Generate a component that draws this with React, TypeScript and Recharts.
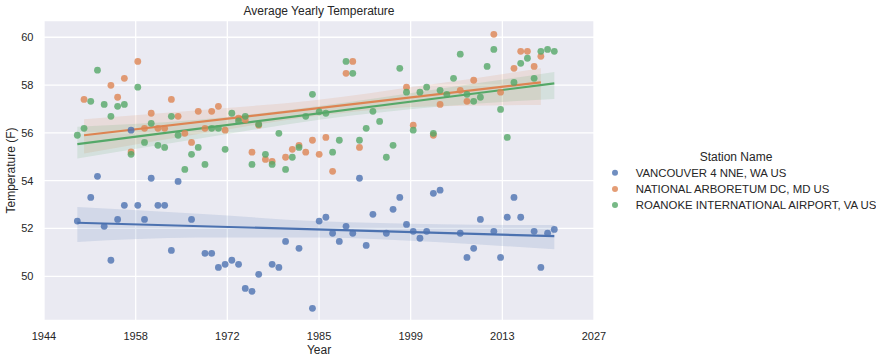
import React from "react";
import {
  ComposedChart,
  Scatter,
  Line,
  Area,
  XAxis,
  YAxis,
  CartesianGrid,
} from "recharts";

// seaborn "deep" palette
const colors = ["#4C72B0", "#DD8452", "#55A868"];
const textColor = "#262626";
const font = "'Liberation Sans', Arial, sans-serif";

const stations = [
  "VANCOUVER 4 NNE, WA US",
  "NATIONAL ARBORETUM DC, MD US",
  "ROANOKE INTERNATIONAL AIRPORT, VA US",
];

// x ticks (labels as drawn by the original axis)
const xTicks = [1944.04, 1957.69, 1971.33, 1984.98, 1998.62, 2012.27, 2025.91];
const xTickLabels = ["1944", "1958", "1972", "1985", "1999", "2013", "2027"];
const yTicks = [50, 52, 54, 56, 58, 60];

// Vancouver
const vanYears = [
  1949, 1951, 1952, 1953, 1954, 1955, 1956, 1957, 1958, 1959, 1960, 1961, 1962, 1963, 1964, 1966,
  1968, 1969, 1970, 1971, 1972, 1973, 1974, 1975, 1976, 1978, 1979, 1980, 1982, 1984, 1985, 1986,
  1987, 1988, 1989, 1990, 1991, 1992, 1993, 1995, 1996, 1997, 1998, 1999, 2000, 2001, 2002, 2003,
  2006, 2007, 2008, 2009, 2011, 2012, 2013, 2014, 2015, 2017, 2018, 2019, 2020,
];
const vanTemps = [
  52.31, 53.3, 54.18, 52.09, 50.67, 52.38, 52.97, 56.11, 52.97, 52.38, 54.1, 52.97, 52.97, 51.08, 53.97, 52.38,
  50.96, 50.96, 50.37, 50.5, 50.67, 50.5, 49.49, 49.37, 50.08, 50.5, 50.37, 51.46, 51.17, 48.66, 52.31, 52.47,
  51.8, 51.46, 52.09, 51.8, 54.1, 51.29, 52.59, 51.8, 52.8, 53.3, 52.17, 51.88, 51.59, 51.88, 53.47, 53.6,
  51.8, 50.79, 51.17, 52.38, 51.88, 50.79, 52.47, 53.3, 52.47, 51.88, 50.37, 51.8, 51.96,
];

// National Arboretum
const arbYears = [
  1950, 1954, 1955, 1956, 1957, 1958, 1959, 1960, 1961, 1962, 1963, 1964, 1965, 1966, 1967, 1968,
  1969, 1970, 1971, 1973, 1974, 1975, 1976, 1977, 1978, 1980, 1981, 1982, 1983, 1984, 1985, 1986,
  1987, 1989, 1990, 1991, 1998, 1999, 2002, 2003, 2006, 2007, 2008, 2011, 2012, 2014, 2015, 2016,
  2017, 2018,
];
const arbTemps = [
  57.4, 57.99, 57.49, 58.28, 55.2, 58.99, 56.19, 56.82, 56.19, 56.19, 57.4, 56.69, 55.98, 55.6, 56.9, 56.19,
  56.9, 57.11, 56.11, 56.61, 56.54, 55.19, 56.32, 54.89, 54.81, 54.98, 55.31, 55.48, 55.19, 55.69, 55.1, 55.81,
  54.39, 58.49, 58.99, 55.39, 57.91, 56.32, 55.9, 57.19, 57.78, 57.32, 58.2, 60.12, 57.7, 58.7, 59.41, 59.41,
  58.78, 59.2,
];

// Roanoke
const roaYears = [
  1949, 1950, 1951, 1952, 1953, 1954, 1955, 1956, 1957, 1958, 1959, 1960, 1961, 1962, 1963, 1964,
  1965, 1966, 1967, 1968, 1969, 1970, 1971, 1972, 1973, 1974, 1975, 1976, 1977, 1978, 1979, 1980,
  1981, 1982, 1983, 1984, 1985, 1986, 1987, 1988, 1989, 1990, 1991, 1992, 1993, 1994, 1995, 1996,
  1997, 1998, 1999, 2000, 2001, 2002, 2003, 2004, 2005, 2006, 2007, 2008, 2009, 2010, 2011, 2012,
  2013, 2014, 2015, 2016, 2017, 2018, 2019, 2020,
];
const roaTemps = [
  55.9, 56.19, 57.32, 58.62, 57.19, 56.69, 57.11, 57.19, 55.1, 57.91, 55.6, 56.4, 55.48, 55.39, 56.69, 55.9,
  54.47, 55.1, 55.39, 54.68, 56.19, 56.19, 55.31, 56.82, 56.5, 56.69, 54.68, 56.36, 55.1, 54.68, 55.98, 54.47,
  54.98, 55.39, 56.69, 57.61, 56.88, 56.82, 55.19, 55.69, 58.99, 58.49, 55.69, 56.19, 56.9, 56.48, 54.98, 55.48,
  58.7, 57.7, 56.11, 57.7, 57.91, 55.98, 57.78, 57.61, 58.28, 59.29, 57.61, 57.32, 57.49, 58.78, 59.49, 56.98,
  55.81, 58.11, 58.91, 59.12, 58.28, 59.41, 59.49, 59.41,
];

// regression fits (end points) and confidence bands
const fitYears = [
  [1949, 2020],
  [1950, 2018],
  [1949, 2020],
];
const fitTemps = [
  [52.24, 51.68],
  [55.9, 58.11],
  [55.53, 58.07],
];
const bandYears = [
  [1949, 1967, 1985, 2003, 2020],
  [1950, 1967, 1984, 2001, 2018],
  [1949, 1967, 1985, 2003, 2020],
];
const bandLow = [
  [51.43, 51.62, 51.62, 51.42, 51.13],
  [55.14, 55.95, 56.68, 57.1, 57.16],
  [54.93, 55.75, 56.55, 57.1, 57.42],
];
const bandHigh = [
  [52.9, 52.62, 52.3, 52.18, 52.14],
  [56.57, 56.95, 57.35, 58.0, 58.7],
  [56.26, 56.55, 57.12, 57.85, 58.55],
];

const toRows = (years: number[], temps: number[]) =>
  years.map((year, i) => ({ year, temp: temps[i] }));

const scatterData = [toRows(vanYears, vanTemps), toRows(arbYears, arbTemps), toRows(roaYears, roaTemps)];
const fitData = fitYears.map((ys, s) => toRows(ys, fitTemps[s]));
const bandData = bandYears.map((ys, s) =>
  ys.map((year, i) => ({ year, band: [bandLow[s][i], bandHigh[s][i]] }))
);

const XTitle = () => (
  <text x={319} y={353.5} textAnchor="middle" fontSize={12} fill={textColor} fontFamily={font}>
    Year
  </text>
);

const YTitle = () => (
  <text
    x={15.3}
    y={170.5}
    transform="rotate(-90 15.3 170.5)"
    textAnchor="middle"
    fontSize={12}
    fill={textColor}
    fontFamily={font}
  >
    Temperature (F)
  </text>
);

const dot = (color: string) => (p: any) =>
  <circle cx={p.cx} cy={p.cy} r={3.4} fill={color} fillOpacity={0.8} />;

const App: React.FC = () => {
  const tick = { fontSize: 11, fill: textColor, fontFamily: font };
  return (
    <div style={{ position: "absolute", left: 0, top: 0, width: 876, height: 362, background: "#fff" }}>
      <ComposedChart width={876} height={362} margin={{ top: 20.5, right: 282, bottom: 0, left: 0 }}>
        <CartesianGrid fill="#EAEAF2" stroke="#fff" strokeWidth={1.3} />
        <XAxis
          type="number"
          dataKey="year"
          domain={[xTicks[0], xTicks[xTicks.length - 1]]}
          allowDataOverflow
          ticks={xTicks}
          interval={0}
          tickFormatter={(_v: number, i: number) => xTickLabels[i]}
          height={41.5}
          axisLine={false}
          tickLine={false}
          tickSize={6}
          tickMargin={6}
          tick={tick}
          label={<XTitle />}
        />
        <YAxis
          type="number"
          dataKey="temp"
          domain={[48.15, 60.7]}
          allowDataOverflow
          ticks={yTicks}
          interval={0}
          width={44}
          axisLine={false}
          tickLine={false}
          tickSize={6}
          tickMargin={4.5}
          tick={tick}
          label={<YTitle />}
        />
        {stations.map((name, s) => [
          <Scatter
            key={`sc-${s}`}
            name={name}
            data={scatterData[s]}
            shape={dot(colors[s])}
            isAnimationActive={false}
          />,
          <Area
            key={`ci-${s}`}
            data={bandData[s]}
            dataKey="band"
            type="monotone"
            fill={colors[s]}
            fillOpacity={0.15}
            stroke="none"
            isAnimationActive={false}
          />,
          <Line
            key={`fit-${s}`}
            data={fitData[s]}
            dataKey="temp"
            type="linear"
            stroke={colors[s]}
            strokeWidth={2.2}
            dot={false}
            isAnimationActive={false}
          />,
        ])}
      </ComposedChart>
      <svg
        width={876}
        height={362}
        style={{ position: "absolute", left: 0, top: 0, pointerEvents: "none" }}
        fontFamily={font}
      >
        <text x={319} y={15.3} textAnchor="middle" fontSize={12} fill={textColor}>
          Average Yearly Temperature
        </text>
        <text x={736} y={161} textAnchor="middle" fontSize={12} fill={textColor}>
          Station Name
        </text>
        {stations.map((name, s) => (
          <g key={name}>
            <circle cx={615} cy={172.7 + s * 16.2} r={3} fill={colors[s]} fillOpacity={0.8} />
            <text x={635.7} y={176.7 + s * 16.2} fontSize={11.4} fill={textColor}>
              {name}
            </text>
          </g>
        ))}
      </svg>
    </div>
  );
};

export default App;
